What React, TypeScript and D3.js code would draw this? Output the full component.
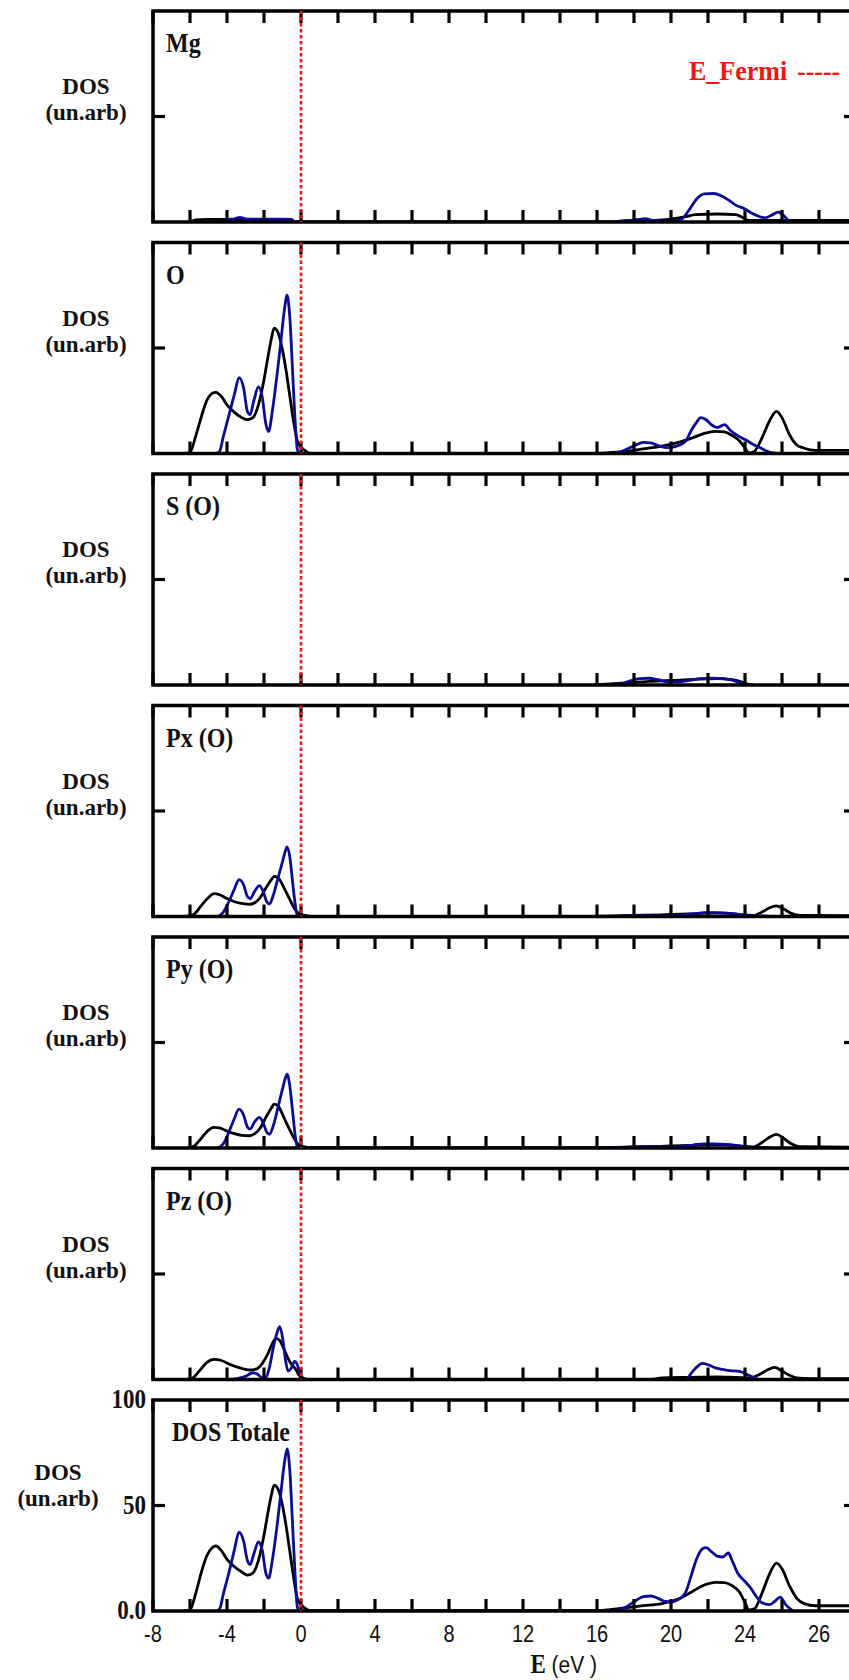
import React from 'react';
import * as d3 from 'd3';

type Pt = [number, number];

// Panel titles, top to bottom
const panelNames = ['Mg', 'O', 'S (O)', 'Px (O)', 'Py (O)', 'Pz (O)', 'DOS Totale'];

// Density of states (arbitrary units) vs energy (eV); series A drawn black, series B drawn blue
const mgA: Pt[] = [
  [-6.0, 0], [-5.7, 1.0], [-5.0, 1.2], [-4.0, 1.2], [-2.5, 0.8], [-1.5, 0.4], [-0.8, 0],
  [16.5, 0], [18, 0.3], [19, 0.8], [20, 1.3], [20.8, 2.5], [21.3, 3.5], [22.5, 3.8], [23.5, 3.5],
  [23.9, 2], [24.2, 0.8], [25, 0.8], [26, 0.8], [30, 0.8],
];
const mgB: Pt[] = [
  [-4.3, 0], [-4.0, 1.2], [-3.6, 1.5], [-3.3, 2.2], [-3.0, 1.5], [-2, 1.3], [-1, 1.3], [-0.5, 1.2], [-0.35, 0],
  [17.0, 0], [17.3, 0.5], [17.8, 0.8], [18.3, 1.2], [18.6, 1.6], [19.0, 0.8], [19.5, 0.4], [20.2, 0.5],
  [20.6, 1.5], [21.0, 6], [21.4, 11], [21.8, 13.3], [22.3, 13.5], [22.7, 12.5], [23.1, 10.5], [23.5, 8],
  [24.0, 6.2], [24.4, 4], [24.8, 2.5], [25.1, 2], [25.5, 3.5], [25.8, 4.7], [26.1, 3], [26.4, 0],
];

const oA: Pt[] = [
  [-6.3, 0], [-6.0, 0.5], [-5.7, 8], [-5.4, 17], [-5.1, 25], [-4.8, 28.5], [-4.6, 29], [-4.3, 27],
  [-4.0, 23], [-3.6, 19.5], [-3.2, 17], [-2.9, 16], [-2.6, 17], [-2.3, 23], [-2.0, 35], [-1.8, 45],
  [-1.6, 54.5], [-1.45, 59.4], [-1.25, 57.5], [-1.0, 49], [-0.8, 39], [-0.6, 27], [-0.4, 15],
  [-0.2, 6], [0, 3], [0.2, 1.5], [0.5, 0],
  [15.8, 0], [16.5, 0.3], [17.5, 1], [18.5, 2.2], [19.5, 3.5], [20.5, 5.5], [21.2, 7.5], [21.8, 9.5],
  [22.4, 10.5], [22.9, 10.2], [23.3, 8.5], [23.7, 6], [24.0, 2.5], [24.2, 0.3], [24.5, 1], [24.9, 7],
  [25.3, 15], [25.7, 20], [26.0, 17], [26.4, 9], [26.8, 4], [27.2, 2.5], [27.8, 1.5], [30, 1.5],
];
const oB: Pt[] = [
  [-4.6, 0], [-4.4, 1], [-4.2, 8], [-3.9, 18], [-3.6, 28], [-3.35, 36], [-3.1, 31], [-2.9, 20],
  [-2.75, 18.4], [-2.55, 25], [-2.3, 31.6], [-2.1, 27], [-1.9, 14], [-1.75, 10.4], [-1.55, 20],
  [-1.3, 37], [-1.1, 52], [-0.9, 68], [-0.75, 75], [-0.6, 64], [-0.45, 38], [-0.3, 13], [-0.2, 2], [-0.1, 0],
  [16.8, 0], [17.2, 0.5], [17.6, 2], [18.1, 4], [18.5, 5.3], [18.9, 5], [19.3, 3.8], [19.8, 2.8],
  [20.3, 3.5], [20.8, 6], [21.1, 11], [21.4, 15], [21.6, 17], [21.9, 16], [22.2, 13.5], [22.5, 12.3],
  [22.9, 13.7], [23.2, 11], [23.6, 8.5], [24.0, 6.6], [24.4, 4.5], [24.8, 2.8], [25.2, 1], [25.5, 0.3], [25.7, 0],
];

const sA: Pt[] = [
  [15.8, 0], [16.5, 0.4], [17.5, 1], [18.5, 1.5], [19.5, 2], [20.5, 2.3], [21.5, 2.8], [22.5, 3],
  [23.3, 2.5], [23.8, 1.5], [24.2, 0.3], [24.5, 0],
];
const sB: Pt[] = [
  [16.8, 0], [17.3, 0.5], [17.8, 2], [18.3, 3], [18.8, 3.2], [19.3, 2.5], [19.8, 1.5], [20.4, 1.5],
  [21, 2.2], [21.6, 3], [22.2, 3.2], [22.8, 3], [23.2, 2.5], [23.6, 1.5], [24.0, 0.5], [24.3, 0],
];

const pxA: Pt[] = [
  [-6.2, 0], [-5.8, 1], [-5.4, 5], [-5.0, 9], [-4.7, 10.8], [-4.4, 10.3], [-4.0, 8.5], [-3.6, 7],
  [-3.2, 6.2], [-2.8, 5.7], [-2.5, 6.5], [-2.2, 9], [-1.9, 13.5], [-1.6, 17.5], [-1.45, 19], [-1.2, 18],
  [-1.0, 15], [-0.8, 11.5], [-0.6, 8], [-0.4, 4.5], [-0.2, 2], [0, 1], [0.2, 0.5], [0.5, 0],
  [15.8, 0], [16.5, 0.2], [18, 0.5], [19.5, 0.8], [21, 1.2], [22, 1.6], [22.8, 1.6], [23.5, 1.2],
  [24, 0.5], [24.4, 0.3], [24.9, 2], [25.3, 4], [25.7, 5], [26.1, 3.5], [26.5, 1.5], [27, 0.5], [30, 0.4],
];
const pxB: Pt[] = [
  [-4.5, 0], [-4.2, 2], [-3.9, 7], [-3.6, 13], [-3.35, 17.5], [-3.1, 15], [-2.9, 9.5], [-2.75, 8.5],
  [-2.5, 12], [-2.25, 14.6], [-2.05, 12], [-1.85, 7], [-1.7, 6], [-1.5, 10], [-1.25, 18], [-1.0, 26],
  [-0.85, 31], [-0.75, 33], [-0.6, 28], [-0.45, 16], [-0.3, 5], [-0.2, 0.5], [-0.1, 0],
  [16.8, 0], [17.5, 0.3], [18.5, 0.5], [19.5, 0.4], [20.5, 0.7], [21.2, 1.2], [21.8, 1.8], [22.4, 1.8],
  [23, 1.6], [23.6, 1], [24.2, 0.6], [24.8, 0.3], [25.4, 0],
];

const pyA: Pt[] = [
  [-6.2, 0], [-5.8, 0.8], [-5.4, 4.5], [-5.0, 8.5], [-4.7, 9.8], [-4.4, 9.5], [-4.0, 8], [-3.6, 6.8],
  [-3.2, 6], [-2.8, 5.8], [-2.5, 6.8], [-2.2, 9.5], [-1.9, 14.5], [-1.6, 19], [-1.45, 20.8], [-1.2, 19.5],
  [-1.0, 16], [-0.8, 12], [-0.6, 8.5], [-0.4, 5], [-0.2, 2.2], [0, 1], [0.2, 0.5], [0.5, 0],
  [15.8, 0], [16.5, 0.2], [18, 0.5], [19.5, 0.8], [21, 1.2], [22, 1.6], [22.8, 1.6], [23.5, 1.2],
  [24, 0.5], [24.4, 0.3], [24.9, 2.5], [25.3, 5], [25.7, 6.5], [26.1, 4.5], [26.5, 2], [27, 0.6], [30, 0.4],
];
const pyB: Pt[] = [
  [-4.5, 0], [-4.2, 2], [-3.9, 7.5], [-3.6, 14], [-3.35, 18.4], [-3.1, 15.5], [-2.9, 10], [-2.75, 9],
  [-2.5, 12.5], [-2.25, 14.5], [-2.05, 12], [-1.85, 7.5], [-1.7, 6.5], [-1.5, 10.5], [-1.25, 19],
  [-1.0, 28], [-0.85, 33], [-0.75, 35], [-0.6, 29], [-0.45, 17], [-0.3, 5], [-0.2, 0.5], [-0.1, 0],
  [16.8, 0], [17.5, 0.3], [18.5, 0.6], [19.5, 0.5], [20.5, 0.8], [21.2, 1.4], [21.8, 2], [22.4, 2],
  [23, 1.7], [23.6, 1.1], [24.2, 0.6], [24.8, 0.3], [25.4, 0],
];

const pzA: Pt[] = [
  [-6.2, 0], [-5.9, 0.5], [-5.5, 4], [-5.1, 8], [-4.7, 9.5], [-4.3, 9], [-3.8, 7], [-3.3, 5.5],
  [-2.8, 4.5], [-2.4, 5], [-2.1, 7.5], [-1.8, 12], [-1.55, 17], [-1.35, 19.5], [-1.15, 18.5],
  [-0.9, 14], [-0.7, 10], [-0.5, 7], [-0.3, 5], [-0.1, 2], [0.1, 0.8], [0.4, 0],
  [19.0, 0], [19.5, 0.8], [21, 1], [22.5, 1.2], [23.5, 1], [24.3, 0.8], [24.8, 2.5], [25.2, 4.5],
  [25.6, 5.7], [26.0, 4], [26.4, 2], [26.8, 0.8], [27.5, 0.4], [30, 0.4],
];
const pzB: Pt[] = [
  [-3.8, 0], [-3.4, 0.5], [-3.0, 1.5], [-2.6, 3.2], [-2.35, 2.5], [-2.1, 0.8], [-1.9, 1], [-1.7, 6],
  [-1.5, 15], [-1.3, 22], [-1.15, 25], [-1.0, 20], [-0.85, 10], [-0.7, 4], [-0.55, 5], [-0.35, 8.6],
  [-0.2, 7], [-0.05, 2], [0.1, 0],
  [20.8, 0], [21.1, 3], [21.4, 6], [21.7, 7.6], [22.0, 7], [22.4, 5.5], [22.8, 4.8], [23.2, 4.2],
  [23.7, 3.8], [24.2, 2], [24.7, 0],
];

const totA: Pt[] = [
  [-6.3, 0], [-6.0, 0.5], [-5.7, 8], [-5.4, 18], [-5.1, 26], [-4.8, 30], [-4.6, 30.8], [-4.3, 28.5],
  [-4.0, 24.5], [-3.6, 21], [-3.2, 18.5], [-2.9, 17], [-2.6, 18], [-2.3, 24], [-2.0, 36], [-1.8, 46],
  [-1.6, 55], [-1.45, 59.7], [-1.25, 58], [-1.0, 50], [-0.8, 40], [-0.6, 28], [-0.4, 16], [-0.2, 6],
  [0, 3], [0.2, 1.5], [0.5, 0],
  [15.8, 0], [16.5, 0.5], [17.5, 1.5], [18.5, 2.5], [19.5, 3.5], [20.5, 6], [21.2, 9.5], [21.8, 12.3],
  [22.4, 13.6], [22.9, 13.4], [23.3, 12], [23.7, 9], [24.0, 4], [24.2, 0.5], [24.5, 1], [24.9, 8],
  [25.3, 17], [25.7, 22.7], [26.0, 20], [26.4, 12], [26.8, 6], [27.2, 3.5], [27.8, 2.5], [30, 2.5],
];
const totB: Pt[] = [
  [-4.6, 0], [-4.4, 1], [-4.2, 8], [-3.9, 18], [-3.6, 29], [-3.35, 37.4], [-3.1, 33], [-2.9, 24],
  [-2.75, 22], [-2.55, 27], [-2.3, 32.7], [-2.1, 29], [-1.9, 18], [-1.75, 15.6], [-1.55, 24],
  [-1.3, 40], [-1.1, 55], [-0.9, 70], [-0.75, 76.8], [-0.6, 66], [-0.45, 40], [-0.3, 14], [-0.2, 2], [-0.1, 0],
  [16.8, 0], [17.2, 0.5], [17.6, 2], [18.1, 5], [18.5, 6.8], [18.9, 7.1], [19.3, 6], [19.7, 4.5],
  [20.0, 4.3], [20.4, 5.5], [20.8, 9], [21.1, 17], [21.4, 25], [21.7, 29.5], [21.9, 30], [22.2, 28],
  [22.5, 26], [22.8, 25.6], [23.1, 27.5], [23.3, 24], [23.6, 18], [24.0, 14], [24.3, 11], [24.6, 7],
  [24.9, 4], [25.3, 3], [25.6, 4.5], [25.9, 6.6], [26.2, 3], [26.6, 0],
];

const seriesA = [mgA, oA, sA, pxA, pyA, pzA, totA];
const seriesB = [mgB, oB, sB, pxB, pyB, pzB, totB];

// Axis ticks
const xTickValues = [-8, -4, 0, 4, 8, 12, 16, 20, 24, 28];
const xTickLabels = ['-8', '-4', '0', '4', '8', '12', '16', '20', '24', '26'];
const yTickValues = [0, 50, 100];
const yTickLabels = ['0.0', '50', '100'];
const yTitleLines = ['DOS', '(un.arb)'];
const xDomain: [number, number] = [-8, 30];
const yDomain: [number, number] = [0, 100];
const eFermi = 0;

const W = 849;
const H = 1680;
const plotLeft = 153;
const plotRight = 856;
const firstTop = 11;
const panelStep = 231.5;
const panelH = 211;

const serif = '"Liberation Serif", "Times New Roman", serif';
const sans = '"Liberation Sans", Arial, sans-serif';
const red = '#f41414';
const blue = '#0c0c98';

// Text drawn slightly taller than wide, anchored at (x, y)
function TallText(props: {
  x: number;
  y: number;
  children: React.ReactNode;
  anchor?: 'start' | 'middle' | 'end';
  family?: string;
  bold?: boolean;
  size?: number;
  fill?: string;
  sy?: number;
}) {
  const { x, y, children, anchor = 'start', family = serif, bold = true, size = 24, fill = '#111', sy = 1.15 } = props;
  return (
    <text
      transform={`translate(${x},${y}) scale(1,${sy})`}
      textAnchor={anchor}
      fontFamily={family}
      fontWeight={bold ? 'bold' : 'normal'}
      fontSize={size}
      fill={fill}
    >
      {children}
    </text>
  );
}

export default function App() {
  const x = d3.scaleLinear().domain(xDomain).range([plotLeft, plotRight]);
  const minorTicks = d3.range(xDomain[0], xDomain[1] + 0.001, 2);

  return (
    <svg
      width={W}
      height={H}
      viewBox={`0 0 ${W} ${H}`}
      style={{ position: 'absolute', left: 0, top: 0, display: 'block', background: '#fff' }}
    >
      <rect x={0} y={0} width={W} height={H} fill="#fff" />
      {panelNames.map((name, i) => {
        const top = firstTop + i * panelStep;
        const bottom = top + panelH;
        const y = d3.scaleLinear().domain(yDomain).range([bottom, top]);
        const line = d3
          .line<Pt>()
          .x((d) => x(d[0]))
          .y((d) => y(d[1]))
          .curve(d3.curveMonotoneX);
        const isTotal = i === panelNames.length - 1;
        const clipId = `clip-${i}`;
        const labelX = isTotal ? 58 : 86;
        const titleY = top + (isTotal ? 80 : 83);
        return (
          <g key={name}>
            <defs>
              <clipPath id={clipId}>
                <rect x={plotLeft} y={top - 2} width={plotRight - plotLeft} height={panelH + 2} />
              </clipPath>
            </defs>
            <g clipPath={`url(#${clipId})`}>
              <path d={line(seriesA[i]) || ''} fill="none" stroke="#000" strokeWidth={2.8} strokeLinejoin="round" />
              <path d={line(seriesB[i]) || ''} fill="none" stroke={blue} strokeWidth={2.8} strokeLinejoin="round" />
            </g>
            {/* frame */}
            <rect
              x={plotLeft}
              y={top}
              width={plotRight - plotLeft}
              height={panelH}
              fill="none"
              stroke="#000"
              strokeWidth={3.5}
            />
            {/* inward ticks on top and bottom edges */}
            {minorTicks.map((t) => (
              <g key={`t${t}`}>
                <line x1={x(t)} x2={x(t)} y1={top} y2={top + 12} stroke="#000" strokeWidth={3.2} />
                <line x1={x(t)} x2={x(t)} y1={bottom} y2={bottom - 12} stroke="#000" strokeWidth={3.2} />
              </g>
            ))}
            {/* middle ticks on left and right edges */}
            <line x1={plotLeft} x2={plotLeft + 12} y1={y(50)} y2={y(50)} stroke="#000" strokeWidth={3.2} />
            <line x1={plotRight} x2={plotRight - 12} y1={y(50)} y2={y(50)} stroke="#000" strokeWidth={3.2} />
            {/* Fermi level */}
            <line
              x1={x(eFermi)}
              x2={x(eFermi)}
              y1={top}
              y2={bottom}
              stroke={red}
              strokeWidth={2.6}
              strokeDasharray="3.5 2.5"
            />
            {/* panel title */}
            <TallText x={isTotal ? 172 : 166} y={top + 41}>{name}</TallText>
            {/* two-line y axis title */}
            <TallText x={labelX} y={titleY} anchor="middle" size={23} sy={1}>
              {yTitleLines[0]}
            </TallText>
            <TallText x={labelX} y={titleY + 26} anchor="middle" size={23} sy={1}>
              {yTitleLines[1]}
            </TallText>
            {isTotal &&
              yTickValues.map((v, k) => (
                <TallText key={`yl${v}`} x={146} y={y(v) + 8} anchor="end" size={23}>
                  {yTickLabels[k]}
                </TallText>
              ))}
            {isTotal &&
              xTickValues.map((v, k) => (
                <TallText
                  key={`xl${v}`}
                  x={x(v)}
                  y={bottom + 31}
                  anchor="middle"
                  family={sans}
                  bold={false}
                  size={20}
                  sy={1.2}
                >
                  {xTickLabels[k]}
                </TallText>
              ))}
            {isTotal && (
              <text
                transform={`translate(${x(14.2)},${bottom + 62}) scale(1,1.15)`}
                textAnchor="middle"
                fontSize={21}
                fill="#111"
              >
                <tspan fontFamily={serif} fontWeight="bold" fontSize={23}>E</tspan>
                <tspan fontFamily={sans}>{' (eV )'}</tspan>
              </text>
            )}
          </g>
        );
      })}
      <TallText x={689} y={80} fill={red} size={26} sy={1.05}>E_Fermi</TallText>
      <TallText x={797} y={80} fill={red} size={26} sy={1.05}>-----</TallText>
    </svg>
  );
}
